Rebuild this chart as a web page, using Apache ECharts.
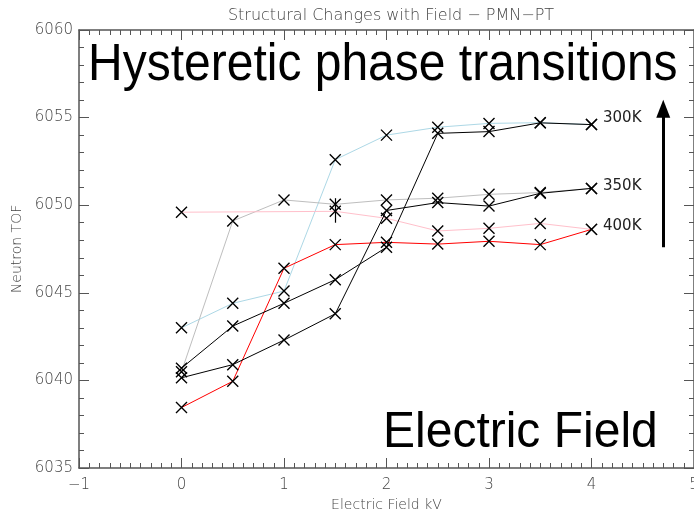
<!DOCTYPE html>
<html><head><meta charset="utf-8">
<script src="https://cdn.jsdelivr.net/npm/echarts@6/dist/echarts.min.js"></script>
<style>html,body{margin:0;padding:0;background:#fff}#c{width:694px;height:512px}</style>
</head><body><div id="c"></div>
<script>
// Electric field steps (kV)
const fieldKV = [0, 0.5, 1, 1.5, 2, 2.5, 3, 3.5, 4];
// 300K
const tof300Blue  = [6043.0, 6044.4, 6045.1, 6052.6, 6054.0, 6054.45, 6054.67, 6054.71, 6054.6];
const tof300Black = [6040.7, 6043.1, 6044.4, 6045.75, 6047.6, 6054.1, 6054.2, 6054.7, 6054.6];
// 350K
const tof350Gray  = [6040.5, 6049.1, 6050.3, 6050.05, 6050.3, 6050.4, 6050.62, 6050.72, 6050.96];
const tof350Black = [6040.15, 6040.9, 6042.3, 6043.8, 6049.7, 6050.15, 6049.95, 6050.68, 6050.96];
// 400K
const field400Pink = [0, 1.5, 2, 2.5, 3, 3.5, 4];
const tof400Pink  = [6049.6, 6049.65, 6049.25, 6048.53, 6048.68, 6048.96, 6048.62];
const tof400Red   = [6038.45, 6039.95, 6046.4, 6047.75, 6047.88, 6047.78, 6047.94, 6047.75, 6048.62];
// error bar at 1.5 kV
const errX = 1.5, errLow = 6049.0, errHigh = 6050.4;
// arrow annotation
const arrowX = 4.7, arrowFrom = 6047.6, arrowTo = 6055.5;

const tempLabels = ['300K', '350K', '400K'];

const X = 'path://M0,0L10,10M10,0L0,10';
function pairs(xs, ys){ return xs.map((x,i)=>[x, ys[i]]); }
function mkSeries(name, xs, ys, color, extra){
  return Object.assign({
    name, type:'line', data: pairs(xs, ys),
    symbol: X, symbolSize: 11,
    itemStyle: {color:'rgba(0,0,0,0)', borderColor:'#000', borderWidth:1.4},
    lineStyle: {color, width:1},
    z: 3, animation:false
  }, extra||{});
}

const axisCol = '#555';
const labFont = {color:'#444', fontSize:15, fontFamily:'DejaVu Sans', fontWeight:'lighter'};
const gridRect = {left:79, right:0, top:30, bottom:44, containLabel:false, outerBoundsMode:'none'};
function xAx(pos, showLab){
  return {type:'value', gridIndex:0, min:-1, max:5, interval:1, position:pos,
    axisLine:{show:true, onZero:false, lineStyle:{color:axisCol, width:1.5}},
    axisTick:{show:true, inside:true, length:10, lineStyle:{color:axisCol, width:1}},
    splitLine:{show:false},
    axisLabel:Object.assign({show:showLab, margin:10, formatter:v=>String(v).replace('-', '\u2212')}, labFont),
    name: showLab ? 'Electric Field kV' : '', nameLocation:'middle', nameGap:28,
    nameTextStyle:{color:'#444', fontSize:14, fontFamily:'DejaVu Sans', fontWeight:'lighter'}
  };
}
function xMinor(pos){
  return {type:'value', gridIndex:1, min:-1, max:5, interval:0.1, position:pos,
    axisLine:{show:false, onZero:false}, axisLabel:{show:false}, splitLine:{show:false},
    axisTick:{show:true, inside:true, length:5, lineStyle:{color:axisCol, width:1}}};
}
function yAx(pos, showLab){
  return {type:'value', gridIndex:0, min:6035, max:6060, interval:5, position:pos,
    axisLine:{show:true, onZero:false, lineStyle:{color:axisCol, width:1.5}},
    axisTick:{show:true, inside:true, length:10, lineStyle:{color:axisCol, width:1}},
    splitLine:{show:false},
    axisLabel:Object.assign({show:showLab, margin:6, formatter:v=>String(v)}, labFont),
    name: showLab ? 'Neutron TOF' : '', nameLocation:'middle', nameGap:54,
    nameTextStyle:{color:'#444', fontSize:14, fontFamily:'DejaVu Sans', fontWeight:'lighter'}
  };
}
function yMinor(pos){
  return {type:'value', gridIndex:1, min:6035, max:6060, interval:1, position:pos,
    axisLine:{show:false, onZero:false}, axisLabel:{show:false}, splitLine:{show:false},
    axisTick:{show:true, inside:true, length:5, lineStyle:{color:axisCol, width:1}}};
}

const chart = echarts.init(document.getElementById('c'), null, {renderer:'canvas'});
chart.setOption({
  animation:false,
  backgroundColor:'#fff',
  title:{text:'Structural Changes with Field \u2212 PMN\u2212PT', left:386, top:3, textAlign:'center',
    textStyle:{color:'#444', fontSize:16, fontFamily:'DejaVu Sans', fontWeight:'lighter'}},
  grid:[Object.assign({}, gridRect), Object.assign({}, gridRect)],
  xAxis:[xAx('bottom', true), xAx('top', false), xMinor('bottom'), xMinor('top')],
  yAxis:[yAx('left', true), yAx('right', false), yMinor('left'), yMinor('right')],
  series:[
    mkSeries('300K blue', fieldKV, tof300Blue, '#add8e6'),
    mkSeries('350K gray', fieldKV, tof350Gray, '#bebebe'),
    mkSeries('400K pink', field400Pink, tof400Pink, '#ffc0cb', {
      markLine:{silent:true, symbol:['none','none'], label:{show:false},
        lineStyle:{color:'#000', width:1.2, type:'solid'},
        data:[[{coord:[errX, errLow]},{coord:[errX, errHigh]}]]}
    }),
    mkSeries('400K red', fieldKV, tof400Red, '#ff0000'),
    mkSeries('350K black', fieldKV, tof350Black, '#000'),
    mkSeries('300K black', fieldKV, tof300Black, '#000', {
      markLine:{silent:true, symbol:['none','triangle'], symbolSize:[14,18], label:{show:false},
        lineStyle:{color:'#000', width:3, type:'solid'},
        data:[[{coord:[arrowX, arrowFrom]},{coord:[arrowX, arrowTo]}]]}
    })
  ],
  graphic:[
    {type:'text', left:88, top:40, scaleY:1.08, z:10, style:{text:'Hysteretic phase transitions', font:'48px "Liberation Sans"', fill:'#000'}},
    {type:'text', left:383, top:408, scaleY:1.06, z:10, style:{text:'Electric Field', font:'48px "Liberation Sans"', fill:'#000'}},
    {type:'text', left:603, top:111, z:10, style:{text:tempLabels[0], font:'15px "DejaVu Sans"', fill:'#222'}},
    {type:'text', left:603, top:179, z:10, style:{text:tempLabels[1], font:'15px "DejaVu Sans"', fill:'#222'}},
    {type:'text', left:603, top:219, z:10, style:{text:tempLabels[2], font:'15px "DejaVu Sans"', fill:'#222'}}
  ]
});
</script></body></html>
